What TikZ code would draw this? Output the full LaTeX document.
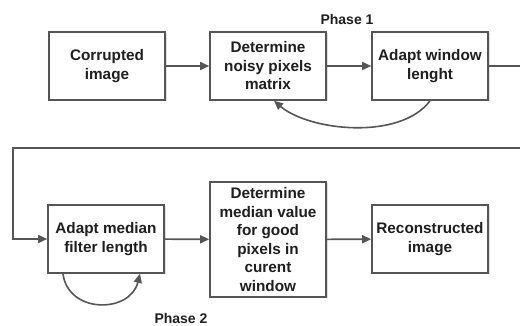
\documentclass[tikz,border=0pt]{standalone}
\usepackage{fontspec}
\setmainfont{Liberation Sans}
\usetikzlibrary{arrows.meta, positioning, shadows}
\definecolor{linegray}{HTML}{555555}
\definecolor{textgray}{HTML}{1E1E1E}

\begin{document}
\begin{tikzpicture}[
    x=1pt, y=1pt,
    block/.style={rectangle, draw=linegray, line width=1.6pt, fill=white,
                  minimum width=116pt, minimum height=#1, align=center,
                  inner sep=2pt, text=textgray,
                  font=\fontsize{15.3}{18.5}\selectfont\bfseries,
                  drop shadow={shadow xshift=1.5pt, shadow yshift=-1.5pt, opacity=0.25}},
    block/.default=68pt,
    flow/.style={draw=linegray, line width=1.6pt, -{Triangle[length=9pt,width=8pt]}},
    phase/.style={font=\fontsize{14}{16}\selectfont\bfseries, text=textgray},
]
\clip (0,0) rectangle (520,326);

% Phase 1
\node[block] (corrupt) at (107,260) {Corrupted\\image};
\node[block] (noisy)   at (268,260) {Determine\\noisy pixels\\matrix};
\node[block] (window)  at (430,260) {Adapt window\\lenght};
\node[phase] (ph1)     at (347,306) {Phase 1};

% Phase 2
\node[block]      (filter) at (106,87)   {Adapt median\\filter length};
\node[block=115pt] (median) at (268,86.5) {Determine\\median value\\for good\\pixels in\\curent\\window};
\node[block]      (recon)  at (430,87)   {Reconstructed\\image};
\node[phase] (ph2)         at (181,7)    {Phase 2};

\coordinate (turnR) at (530,178);
\coordinate (turnL) at (13,178);

\draw[flow] (corrupt) -- (noisy);
\draw[flow] (noisy) -- (window);
\draw[flow] (window.south) .. controls +(-30,-40) and +(35,-30) .. ([xshift=6pt]noisy.south);
\draw[flow] (window.east) -| (turnR) -- (turnL) |- (filter.west);
\draw[flow] ([xshift=-43pt]filter.south) .. controls +(5,-40) and +(-10,-40) .. ([xshift=34pt]filter.south);
\draw[flow] (filter) -- (median);
\draw[flow] (median) -- (recon);
\end{tikzpicture}
\end{document}
